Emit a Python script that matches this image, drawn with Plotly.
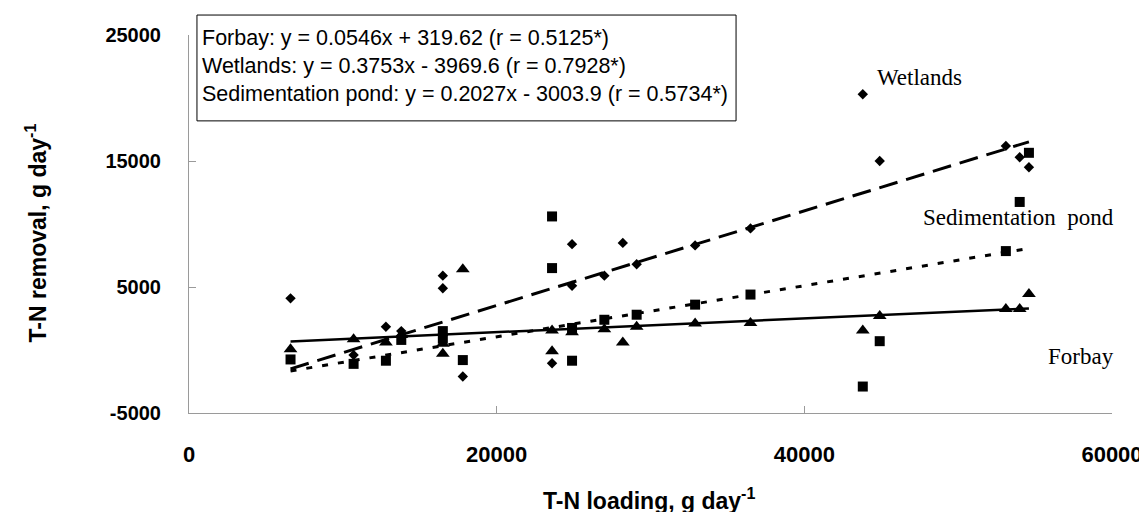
import plotly.graph_objects as go

# ---- data ----
wet_x = [6600, 10700, 12800, 13800, 16500, 16500, 17800, 23600, 24900, 24900,
         27000, 28200, 29100, 32900, 36500, 43800, 44900, 53100, 54000, 54600]
wet_y = [4100, -400, 1850, 1500, 5900, 4900, -2100, -1050, 8400, 5100,
         5900, 8500, 6800, 8300, 9650, 20300, 15000, 16200, 15300, 14500]

for_x = [6600, 10700, 12800, 13800, 16500, 16500, 17800, 23600, 23600, 24900,
         27000, 28200, 29100, 32900, 36500, 43800, 44900, 53100, 54000, 54600]
for_y = [50, 850, 600, 1200, 500, -300, 6400, 1550, -100, 1400,
         1650, 600, 1850, 2100, 2150, 1550, 2700, 3250, 3250, 4450]

sed_x = [6600, 10700, 12800, 13800, 16500, 16500, 17800, 23600, 23600, 24900,
         24900, 27000, 29100, 32900, 36500, 43800, 44900, 53100, 54000, 54600]
sed_y = [-750, -1100, -850, 800, 1500, 900, -800, 10600, 6500, 1750,
         -850, 2400, 2800, 3600, 4400, -2900, 700, 7850, 11750, 15650]

# regression equations given in the chart
series_names = ["Forbay", "Wetlands", "Sedimentation pond"]
slopes = [0.0546, 0.3753, 0.2027]
intercepts = [319.62, -3969.6, -3003.9]
r_values = ["0.5125*", "0.7928*", "0.5734*"]

x_ticks = [0, 20000, 40000, 60000]
y_ticks = [-5000, 5000, 15000, 25000]

fig = go.Figure()

# scatter points
fig.add_trace(go.Scatter(x=wet_x, y=wet_y, mode="markers",
                         marker=dict(symbol="diamond", size=8, color="black"),
                         name="Wetlands"))
fig.add_trace(go.Scatter(x=sed_x, y=sed_y, mode="markers",
                         marker=dict(symbol="square", size=10, color="black"),
                         name="Sedimentation pond"))
fig.add_trace(go.Scatter(x=for_x, y=for_y, mode="markers",
                         marker=dict(symbol="triangle-up", size=12, color="black"),
                         name="Forbay"))

# trend lines
def trend(xs, a, b):
    x0, x1 = min(xs), max(xs)
    return [x0, x1], [a * x0 + b, a * x1 + b]

lx, ly = trend(for_x, slopes[0], intercepts[0])
fig.add_trace(go.Scatter(x=lx, y=ly, mode="lines",
                         line=dict(color="black", width=2.5), showlegend=False))
lx, ly = trend(wet_x, slopes[1], intercepts[1])
fig.add_trace(go.Scatter(x=lx, y=ly, mode="lines",
                         line=dict(color="black", width=3, dash="19px,9px"), showlegend=False))
lx, ly = trend(sed_x, slopes[2], intercepts[2])
fig.add_trace(go.Scatter(x=lx, y=ly, mode="lines",
                         line=dict(color="black", width=3, dash="6px,10px"), showlegend=False))

sans = "Liberation Sans, Arial, sans-serif"
serif = "Liberation Serif, Times New Roman, serif"

# equation box
def fmt_eq(name, a, b, r):
    sign = "+" if b >= 0 else "-"
    return f"{name}: y = {a:.4f}x {sign} {abs(b):g} (r = {r})"

eq_text = "<br>".join(fmt_eq(n, a, b, r) for n, a, b, r in
                      zip(series_names, slopes, intercepts, r_values))

annotations = [
    dict(text=eq_text, xref="paper", yref="paper", x=0.0129, y=0.918,
         xanchor="left", yanchor="middle", align="left", showarrow=False,
         font=dict(family=sans, size=21.5, color="black"), borderpad=0),
    dict(text="Wetlands", xref="paper", yref="paper", x=0.8394, y=0.8864,
         xanchor="right", yanchor="middle", showarrow=False,
         font=dict(family=serif, size=23, color="black")),
    dict(text="Sedimentation&nbsp;&nbsp;pond", xref="paper", yref="paper", x=1.0043, y=0.5165,
         xanchor="right", yanchor="middle", showarrow=False,
         font=dict(family=serif, size=23, color="black")),
    dict(text="Forbay", xref="paper", yref="paper", x=1.0043, y=0.149,
         xanchor="right", yanchor="middle", showarrow=False,
         font=dict(family=serif, size=23, color="black")),
    dict(text="T-N removal, g day<sup>-1</sup>", xref="paper", yref="paper",
         x=-0.166, y=0.477, xanchor="center", yanchor="middle", textangle=-90,
         showarrow=False, font=dict(family=sans, size=23, color="black", weight="bold")),
    dict(text="T-N loading, g day<sup>-1</sup>", xref="paper", yref="paper",
         x=0.4989, y=-0.2734, xanchor="center", yanchor="bottom",
         showarrow=False, font=dict(family=sans, size=23, color="black", weight="bold")),
]

shapes = [
    dict(type="rect", xref="paper", yref="paper", x0=0.00862, x1=0.5927,
         y0=0.7728, y1=1.0528, line=dict(color="black", width=1),
         fillcolor="white", layer="above"),
]

fig.update_layout(
    width=1147, height=512,
    margin=dict(l=181, r=38, t=27, b=107),
    paper_bgcolor="white", plot_bgcolor="white",
    showlegend=False,
    annotations=annotations,
    shapes=shapes,
)
fig.update_xaxes(range=[0, 60000], tickvals=x_ticks, ticktext=[str(v) for v in x_ticks],
                 showgrid=False, zeroline=False, showline=True, linecolor="#9a9a9a",
                 linewidth=1, ticks="inside", ticklen=7, tickcolor="#9a9a9a",
                 tickfont=dict(family=sans, size=22, color="black", weight="bold"),
                 ticklabelstandoff=22)
fig.update_yaxes(range=[-5000, 25000], tickvals=y_ticks, ticktext=[str(v) for v in y_ticks],
                 showgrid=False, zeroline=False, showline=True, linecolor="#9a9a9a",
                 linewidth=1, ticks="inside", ticklen=7, tickcolor="#9a9a9a",
                 tickfont=dict(family=sans, size=20, color="black", weight="bold"),
                 ticklabelstandoff=23)

fig.write_html("out.html")
